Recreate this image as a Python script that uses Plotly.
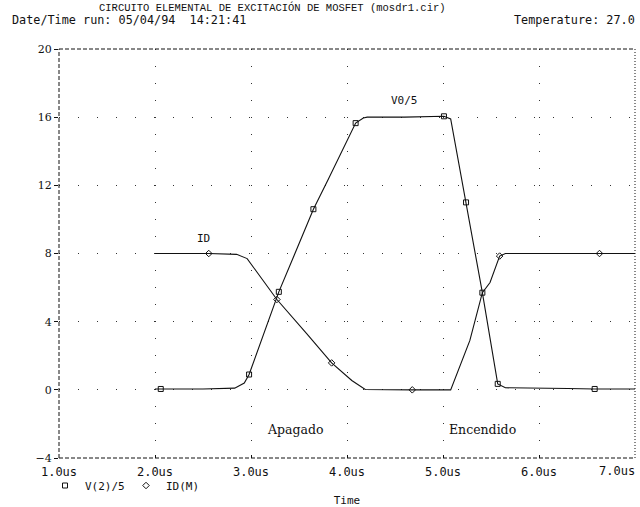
import plotly.graph_objects as go

# Transient result of the MOSFET drive circuit (time in microseconds)
t_v = [2.0, 2.06, 2.5, 2.83, 2.93, 2.98, 3.10, 3.29, 3.45, 3.65, 3.80, 3.93, 4.09, 4.17, 4.21,
       4.60, 5.01, 5.08, 5.24, 5.41, 5.57, 5.65, 6.30, 6.58, 7.0]
v2_5 = [0.05, 0.05, 0.05, 0.1, 0.4, 0.9, 2.8, 5.75, 7.9, 10.6, 12.3, 13.8, 15.65, 15.95, 16.0,
        16.0, 16.05, 15.9, 11.0, 5.7, 0.35, 0.12, 0.08, 0.05, 0.05]

t_id = [2.0, 2.56, 2.85, 2.96, 3.05, 3.27, 3.58, 3.84, 4.05, 4.19, 4.68, 5.08, 5.28, 5.41,
        5.49, 5.59, 5.65, 6.63, 7.0]
id_m = [8.0, 8.0, 7.95, 7.7, 7.0, 5.3, 3.3, 1.58, 0.55, 0.02, 0.0, 0.0, 2.9, 5.7,
        6.3, 7.85, 8.0, 8.0, 8.0]

# Marker positions along each trace
mk_t_v = [2.06, 2.98, 3.29, 3.65, 4.09, 5.01, 5.24, 5.41, 5.57, 6.58]
mk_v = [0.05, 0.9, 5.75, 10.6, 15.65, 16.05, 11.0, 5.7, 0.35, 0.05]
mk_t_id = [2.56, 3.27, 3.84, 4.68, 5.59, 6.63]
mk_id = [8.0, 5.3, 1.58, 0.0, 7.85, 8.0]

x_ticks = [1, 2, 3, 4, 5, 6, 7]
x_labels = ["1.0us", "2.0us", "3.0us", "4.0us", "5.0us", "6.0us", "7.0us"]
y_ticks = [-4, 0, 4, 8, 12, 16, 20]

MONO = "DejaVu Sans Mono"
COUR = "Liberation Mono"
SERIF = "DejaVu Serif"
INK = "#111111"

fig = go.Figure()
fig.add_trace(go.Scatter(x=t_v, y=v2_5, mode="lines", line=dict(color=INK, width=1.1),
                         showlegend=False, hoverinfo="skip"))
fig.add_trace(go.Scatter(x=t_id, y=id_m, mode="lines", line=dict(color=INK, width=1.1),
                         showlegend=False, hoverinfo="skip"))
fig.add_trace(go.Scatter(x=mk_t_v, y=mk_v, mode="markers", name="V(2)/5",
                         marker=dict(symbol="square-open", size=5, color=INK,
                                     line=dict(width=1, color=INK))))
fig.add_trace(go.Scatter(x=mk_t_id, y=mk_id, mode="markers", name="ID(M)",
                         marker=dict(symbol="diamond-open", size=5, color=INK,
                                     line=dict(width=1, color=INK))))

# Dashed plot frame
frame = [
    dict(x0=0, x1=1, y0=1, y1=1, dash="4px,2px"),
    dict(x0=0, x1=1, y0=0, y1=0, dash="4px,2px"),
    dict(x0=0, x1=0, y0=0, y1=1, dash="4px,2px"),
    dict(x0=1, x1=1, y0=0, y1=1, dash="1px,2px"),
]
for f in frame:
    fig.add_shape(type="line", xref="paper", yref="paper", x0=f["x0"], x1=f["x1"],
                  y0=f["y0"], y1=f["y1"], line=dict(color=INK, width=1, dash=f["dash"]))

def ann(text, x, y, font, size, xref="x", yref="y", xanchor="center", yanchor="middle"):
    fig.add_annotation(text=text, x=x, y=y, xref=xref, yref=yref, showarrow=False,
                       xanchor=xanchor, yanchor=yanchor,
                       font=dict(family=font, size=size, color=INK))

# Trace labels and operating regions
ann("V0/5", 4.6, 17.0, MONO, 11)
ann("ID", 2.5, 8.9, MONO, 11)
ann("Apagado", 3.46, -2.35, SERIF, 12.5)
ann("Encendido", 5.41, -2.35, SERIF, 12.5)

# Header lines
H = 409.0
def py(p):
    return (458 - p) / H
def px(p):
    return (p - 59) / 576.0

ann("CIRCUITO ELEMENTAL DE EXCITACIÓN DE MOSFET (mosdr1.cir)", px(272), py(8), COUR, 10.5,
    xref="paper", yref="paper")
ann("Date/Time run: 05/04/94  14:21:41", px(10), py(20), MONO, 11.8,
    xref="paper", yref="paper", xanchor="left")
ann("Temperature: 27.0", px(637), py(20), MONO, 11.8,
    xref="paper", yref="paper", xanchor="right")

# Last time label sits flush against the right edge
ann(x_labels[-1], px(637), py(470.5), MONO, 12, xref="paper", yref="paper", xanchor="right")

fig.update_layout(
    width=640, height=507,
    margin=dict(l=59, r=5, t=49, b=49),
    paper_bgcolor="white", plot_bgcolor="white",
    showlegend=True,
    legend=dict(orientation="h", x=px(45), y=py(471), xanchor="left", yanchor="top",
                font=dict(family=MONO, size=11, color=INK), bgcolor="rgba(0,0,0,0)",
                itemwidth=30, entrywidth=36, tracegroupgap=0),
    xaxis=dict(range=[1, 7], tickvals=x_ticks, ticktext=x_labels[:-1] + [""], showline=False,
               zeroline=False, showgrid=True, gridcolor="#333", gridwidth=1,
               griddash="1px,16px", ticks="inside", ticklen=3, tickcolor=INK,
               ticklabelstandoff=5, automargin=False,
               tickfont=dict(family=MONO, size=12, color=INK),
               title=dict(text="Time", font=dict(family=MONO, size=11, color=INK), standoff=18)),
    yaxis=dict(range=[-4, 20], tickvals=y_ticks, showline=False, zeroline=False,
               showgrid=True, gridcolor="#333", gridwidth=1, griddash="1px,18px",
               ticks="outside", ticklen=4, tickcolor=INK, automargin=False,
               tickfont=dict(family=SERIF, size=11, color=INK)),
)

fig.write_html("out.html")
